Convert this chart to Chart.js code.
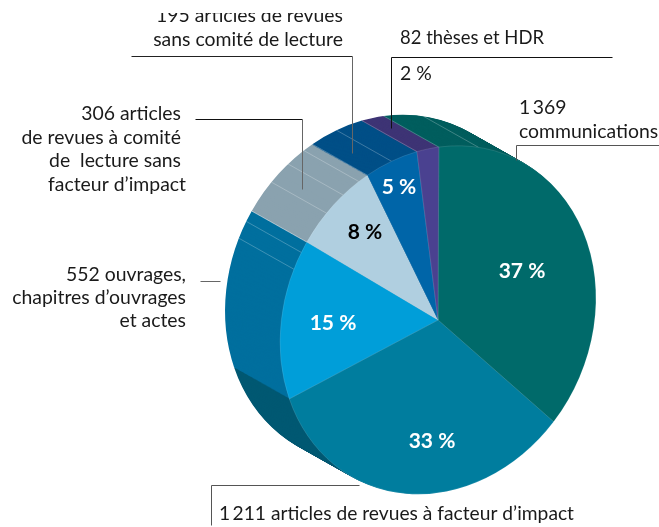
<!DOCTYPE html>
<html>
<head>
<meta charset="utf-8">
<style>
  html, body { margin: 0; padding: 0; background: #fff; }
  canvas { display: block; }
</style>
<script src="https://cdn.jsdelivr.net/npm/chart.js@4"></script>
</head>
<body>
<canvas id="publications" width="659" height="527"></canvas>
<script>
const categories = [
    'communications',
    'articles de revues à facteur d’impact',
    'ouvrages, chapitres d’ouvrages et actes',
    'articles de revues à comité de lecture sans facteur d’impact',
    'articles de revues sans comité de lecture',
    'thèses et HDR'
];
const counts = [1369, 1211, 552, 306, 195, 82];
const topColors = ['#006a6a', '#007d9e', '#009ed9', '#b0cfe0', '#0065a8', '#4a4190'];
const sideColors = ['#005e5e', '#005872', '#006f9e', '#8aa2af', '#004f87', '#3e3475'];
const percentColors = ['#fff', '#fff', '#fff', '#000', '#fff'];

// slice tilt: ellipse on screen and extrusion towards upper left
const center = { x: 438, y: 320 };
const major = 179, minor = 152.5, tilt = -64 * Math.PI / 180;
const depth = { x: -55, y: -31 }, layers = 56;

// where the text goes
const FONT = '19.4px Lato';
const BOLD = 'bold 21px Lato';
const percentSpots = [[522, 271], [432, 441], [333, 323], [365, 232], [399, 187]];
const captions = [
    { t: '195 articles de revues', x: 343, y: 22, align: 'right', clipTop: 13 },
    { t: 'sans comité de lecture', x: 343, y: 46, align: 'right' },
    { t: '82 thèses et HDR', x: 400, y: 44, align: 'left', w: 144 },
    { t: '2 %', x: 400, y: 80, align: 'left' },
    { t: '1\u2009369', x: 519, y: 114, align: 'left' },
    { t: 'communications', x: 519, y: 138, align: 'left' },
    { t: '306 articles', x: 181, y: 120, align: 'right' },
    { t: 'de revues à comité', x: 181, y: 144, align: 'right' },
    { t: 'de  lecture sans', x: 181, y: 167, align: 'right' },
    { t: 'facteur d’impact', x: 186, y: 191, align: 'right' },
    { t: '552 ouvrages,', x: 186, y: 281, align: 'right' },
    { t: 'chapitres d’ouvrages', x: 186, y: 304, align: 'right' },
    { t: 'et actes', x: 186, y: 327, align: 'right' },
    { t: '1\u2009211 articles de revues à facteur d’impact', x: 219, y: 520, align: 'left', w: 355 }
];
const leaders = [
    { c: '#222', p: [[131, 56], [352, 56]] },
    { c: '#666', p: [[352, 56], [352, 153]] },
    { c: '#111', p: [[612, 57], [391, 57], [391, 128]] },
    { c: '#555', p: [[659, 145], [516, 145], [516, 160]] },
    { c: '#111', p: [[195, 119], [302, 119]] },
    { c: '#666', p: [[302, 119], [302, 189]] },
    { c: '#666', p: [[200, 281], [220, 281]] },
    { c: '#555', p: [[359, 485], [211, 485], [211, 525]] }
];
// thin pale folds on the side band: [slice, fraction of slice]
const folds = [[0, 0], [0, 0.11], [5, 0], [4, 0], [4, 0.5], [3, 0], [3, 0.38], [3, 0.65], [3, 0.88], [2, 1], [2, 0.93], [2, 0.82]];

function applyTilt(ctx, arc) {
    ctx.translate(center.x, center.y);
    ctx.rotate(tilt);
    ctx.scale(major / arc.outerRadius, minor / arc.outerRadius);
    ctx.rotate(-tilt);
    ctx.translate(-arc.x, -arc.y);
}

function rimPoint(angle) {
    const c = Math.cos(tilt), s = Math.sin(tilt);
    const ux = Math.cos(angle), uy = Math.sin(angle);
    const a = (ux * c + uy * s) * major;
    const b = (-ux * s + uy * c) * minor;
    return { x: center.x + a * c - b * s, y: center.y + a * s + b * c };
}

const tiltedPie = {
    id: 'tiltedPie',
    beforeDatasetsDraw(chart) {
        const ctx = chart.ctx;
        const arcs = chart.getDatasetMeta(0).data;
        for (let k = layers; k >= 1; k--) {
            ctx.save();
            ctx.translate(depth.x * k / layers, depth.y * k / layers);
            applyTilt(ctx, arcs[0]);
            arcs.forEach((arc, i) => {
                const saved = arc.options;
                arc.options = Object.assign({}, saved, { backgroundColor: sideColors[i], borderWidth: 0 });
                arc.draw(ctx);
                arc.options = saved;
            });
            ctx.restore();
        }
        ctx.save();
        ctx.strokeStyle = 'rgba(255,255,255,0.35)';
        ctx.lineWidth = 0.7;
        folds.forEach(([i, f]) => {
            const arc = arcs[i];
            const p = rimPoint(arc.startAngle + (arc.endAngle - arc.startAngle) * f);
            ctx.beginPath();
            ctx.moveTo(p.x, p.y);
            ctx.lineTo(p.x + depth.x, p.y + depth.y);
            ctx.stroke();
        });
        ctx.restore();
        ctx.save();
        applyTilt(ctx, arcs[0]);
    },
    afterDatasetsDraw(chart) {
        chart.ctx.restore();
    },
    afterDraw(chart) {
        const ctx = chart.ctx;
        const total = counts.reduce((a, b) => a + b, 0);
        ctx.save();
        leaders.forEach(l => {
            ctx.strokeStyle = l.c;
            ctx.lineWidth = 1;
            ctx.beginPath();
            l.p.forEach(([x, y], n) => n ? ctx.lineTo(x + 0.5, y + 0.5) : ctx.moveTo(x + 0.5, y + 0.5));
            ctx.stroke();
        });
        ctx.textBaseline = 'alphabetic';
        ctx.fillStyle = '#1a1a1a';
        ctx.font = FONT;
        captions.forEach(c => {
            ctx.save();
            if (c.clipTop) {
                ctx.beginPath();
                ctx.rect(0, c.clipTop, 659, 527);
                ctx.clip();
            }
            ctx.textAlign = c.align;
            if (c.w) ctx.fillText(c.t, c.x, c.y, c.w);
            else ctx.fillText(c.t, c.x, c.y);
            ctx.restore();
        });
        ctx.font = BOLD;
        ctx.textAlign = 'center';
        ctx.textBaseline = 'middle';
        percentSpots.forEach(([x, y], i) => {
            ctx.fillStyle = percentColors[i];
            ctx.fillText(Math.round(counts[i] / total * 100) + ' %', x, y);
        });
        ctx.restore();
    }
};

new Chart(document.getElementById('publications'), {
    type: 'pie',
    data: {
        labels: categories,
        datasets: [{
            data: counts,
            backgroundColor: topColors,
            borderColor: 'rgba(255,255,255,0.3)',
            borderWidth: 0.6,
            clip: false
        }]
    },
    options: {
        responsive: false,
        animation: false,
        rotation: -3.5,
        plugins: { legend: { display: false }, tooltip: { enabled: false } }
    },
    plugins: [tiltedPie]
});
</script>
</body>
</html>
